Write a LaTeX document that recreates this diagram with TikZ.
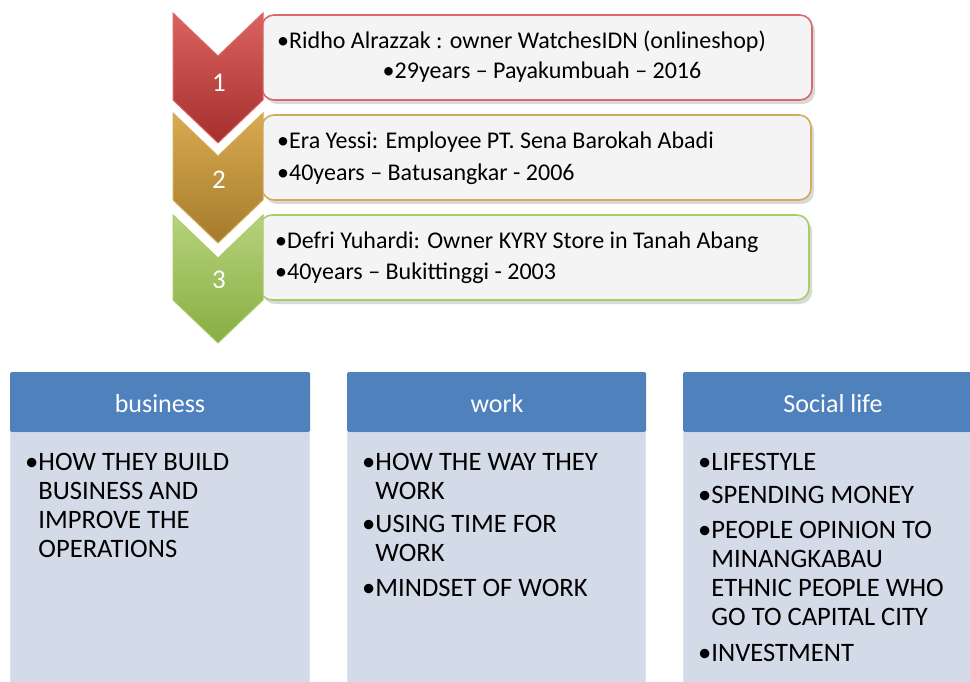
\documentclass[tikz,border=0pt]{standalone}
\usepackage{fontspec}
\setmainfont{Carlito}
\definecolor{boxfill}{HTML}{F4F4F4}
\definecolor{redA}{HTML}{DA6360}
\definecolor{redB}{HTML}{A52F2C}
\definecolor{redE}{HTML}{D9696A}
\definecolor{goldA}{HTML}{D8AA50}
\definecolor{goldB}{HTML}{A57B2C}
\definecolor{goldE}{HTML}{D2AC5C}
\definecolor{greenA}{HTML}{B7D27C}
\definecolor{greenB}{HTML}{88AE42}
\definecolor{greenE}{HTML}{A8CC6C}
\definecolor{hdr}{HTML}{4F81BD}
\definecolor{body}{HTML}{D3DAE8}
\definecolor{bodyE}{HTML}{DCE2EE}
\tikzset{
  infobox/.style={rounded corners=12pt, fill=boxfill, line width=1.6pt},
  shadowbox/.style={rounded corners=12pt, fill=black!15},
  chevshape/.style={line width=1pt},
  numtext/.style={text=white, font=\fontsize{27}{30}\selectfont, inner sep=0pt},
  toptext/.style={font=\fontsize{24}{28}\selectfont, inner sep=0pt, anchor=west},
  hdrtext/.style={text=white, font=\fontsize{26}{30}\selectfont, inner sep=0pt},
  bodytext/.style={font=\fontsize{26.6}{29}\selectfont, inner sep=0pt, anchor=north west, align=left},
}
\begin{document}
\begin{tikzpicture}[x=1pt,y=-1pt]
\useasboundingbox (0,0) rectangle (970,682);
% shadows of info boxes
\fill[shadowbox] (265,19) rectangle (815,104);
\fill[shadowbox] (265,119) rectangle (814,204);
\fill[shadowbox] (263,219) rectangle (812,304);
% info boxes
\draw[infobox, draw=redE] (262,15) rectangle (812,100);
\draw[infobox, draw=goldE] (262,115) rectangle (811,200);
\draw[infobox, draw=greenE] (260,215) rectangle (809,300);
% chevrons
\shade[top color=greenA, bottom color=greenB, draw=greenE, chevshape]
  (173,215) -- (218,258) -- (263,215) -- (263,300) -- (218,343) -- (173,300) -- cycle;
\shade[top color=goldA, bottom color=goldB, draw=goldE, chevshape]
  (173,113) -- (218,156) -- (263,113) -- (263,200) -- (218,243) -- (173,200) -- cycle;
\shade[top color=redA, bottom color=redB, draw=redE, chevshape]
  (173,13) -- (218,56) -- (263,13) -- (263,100) -- (218,143) -- (173,100) -- cycle;
\node[numtext] (n1) at (219,83) {1};
\node[numtext] (n2) at (219,180) {2};
\node[numtext] (n3) at (219,280) {3};
% top texts
\node[toptext] (t1a) at (277,42) {•Ridho Alrazzak : owner WatchesIDN (onlineshop)};
\node[toptext, anchor=center] (t1b) at (542,72) {•29years – Payakumbuah – 2016};
\node[toptext] (t2a) at (277,142) {•Era Yessi: Employee PT. Sena Barokah Abadi};
\node[toptext] (t2b) at (277,174) {•40years – Batusangkar - 2006};
\node[toptext] (t3a) at (275,242) {•Defri Yuhardi: Owner KYRY Store in Tanah Abang};
\node[toptext] (t3b) at (275,273) {•40years – Bukittinggi - 2003};
% bottom columns
\fill[body] (10,432) rectangle (310,690);
\draw[bodyE, line width=1pt] (10.5,690) -- (10.5,432.5) -- (309.5,432.5) -- (309.5,690);
\fill[hdr, rounded corners=1.5pt] (10,372) rectangle (310,432);
\fill[body] (347,432) rectangle (646,690);
\draw[bodyE, line width=1pt] (347.5,690) -- (347.5,432.5) -- (645.5,432.5) -- (645.5,690);
\fill[hdr, rounded corners=1.5pt] (347,372) rectangle (646,432);
\fill[body] (683,432) rectangle (980,690);
\draw[bodyE, line width=1pt] (683.5,690) -- (683.5,432.5) -- (980,432.5);
\fill[hdr, rounded corners=1.5pt] (683,372) rectangle (980,432);
\node[hdrtext] (h1) at (160,404) {business};
\node[hdrtext] (h2) at (497,404) {work};
\node[hdrtext] (h3) at (833,404) {Social life};
\node[bodytext] (b1) at (25,453) {•HOW THEY BUILD\\\phantom{•}BUSINESS AND\\\phantom{•}IMPROVE THE\\\phantom{•}OPERATIONS};
\node[bodytext] (b2) at (362,453) {•HOW THE WAY THEY\\\phantom{•}WORK\\[4pt]•USING TIME FOR\\\phantom{•}WORK\\[6pt]•MINDSET OF WORK};
\node[bodytext] (b3) at (698,453) {•LIFESTYLE\\[4pt]•SPENDING MONEY\\[6pt]•PEOPLE OPINION TO\\\phantom{•}MINANGKABAU\\\phantom{•}ETHNIC PEOPLE WHO\\\phantom{•}GO TO CAPITAL CITY\\[7pt]•INVESTMENT};
\end{tikzpicture}
\end{document}
